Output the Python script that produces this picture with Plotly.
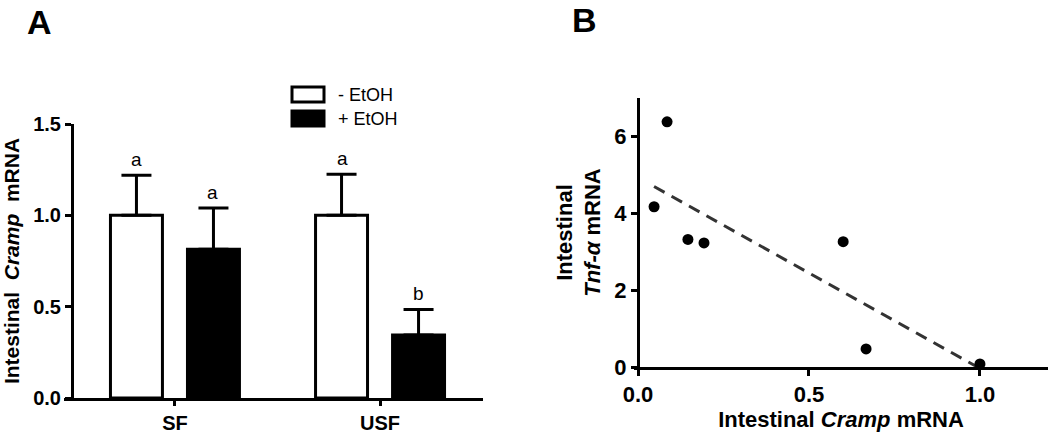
import numpy as np
import plotly.graph_objects as go

# Panel A: intestinal Cramp mRNA by group
groups = ["SF", "USF"]
series_names = ["- EtOH", "+ EtOH"]
cramp_minus = [1.0, 1.0]
cramp_minus_err = [0.22, 0.225]
cramp_plus = [0.815, 0.345]
cramp_plus_err = [0.225, 0.14]
letters_minus = ["a", "a"]
letters_plus = ["a", "b"]

# Panel B: correlation
cramp_x = [0.047, 0.085, 0.146, 0.193, 0.60, 0.667, 1.0]
tnf_y = [4.17, 6.38, 3.32, 3.23, 3.26, 0.47, 0.08]

W, H = 1050, 436


def px(v):
    return v / W


def py(v):
    return 1 - v / H


FONT = "Liberation Sans, Arial, sans-serif"

fig = go.Figure()

fig.add_trace(go.Bar(
    x=groups, y=cramp_minus, name=series_names[0],
    marker=dict(color="white", line=dict(color="black", width=3)),
    error_y=dict(type="data", array=cramp_minus_err, arrayminus=[0, 0], symmetric=False,
                 thickness=3, width=15, color="black"),
    xaxis="x", yaxis="y", showlegend=False,
))
fig.add_trace(go.Bar(
    x=groups, y=cramp_plus, name=series_names[1],
    marker=dict(color="black", line=dict(color="black", width=3)),
    error_y=dict(type="data", array=cramp_plus_err, arrayminus=[0, 0], symmetric=False,
                 thickness=3, width=15, color="black"),
    xaxis="x", yaxis="y", showlegend=False,
))

# scatter + regression line
slope, intercept = np.polyfit(cramp_x, tnf_y, 1)
fit_x = np.array([min(cramp_x), max(cramp_x)])
fig.add_trace(go.Scatter(
    x=fit_x, y=slope * fit_x + intercept, mode="lines",
    line=dict(color="#333333", width=3, dash="12px,8px"),
    xaxis="x2", yaxis="y2", showlegend=False,
))
fig.add_trace(go.Scatter(
    x=cramp_x, y=tnf_y, mode="markers",
    marker=dict(color="black", size=11),
    xaxis="x2", yaxis="y2", showlegend=False,
))

axis_common = dict(showgrid=False, zeroline=False, showline=True, linecolor="black",
                   linewidth=3, ticks="outside", tickwidth=2.5, ticklen=6, tickcolor="black",
                   automargin=False)


def tickfont(size):
    return dict(family=FONT, size=size, color="black", weight="bold")


fig.update_layout(
    width=W, height=H,
    margin=dict(l=0, r=0, t=0, b=0),
    paper_bgcolor="white", plot_bgcolor="white",
    barmode="group", bargap=0.249, bargroupgap=0.325,
    font=dict(family=FONT, color="black"),
    xaxis=dict(axis_common, domain=[px(64), px(483)], range=[-0.541, 1.502],
               anchor="y", ticklen=5, tickfont=tickfont(20)),
    yaxis=dict(axis_common, domain=[py(398), py(124)], range=[0, 1.5],
               tickvals=[0, 0.5, 1.0, 1.5], tickformat=".1f", tickfont=tickfont(20),
               anchor="free", position=px(72),
               title=dict(text="Intestinal  <i>Cramp</i>  mRNA", standoff=6,
                          font=dict(family=FONT, size=21, weight="bold"))),
    xaxis2=dict(axis_common, domain=[px(634), px(1048)], range=[-0.0117, 1.199],
                tickvals=[0, 0.5, 1.0], tickformat=".1f", anchor="y2", tickfont=tickfont(22),
                title=dict(text="Intestinal <i>Cramp</i> mRNA", standoff=6,
                           font=dict(family=FONT, size=22, weight="bold"))),
    yaxis2=dict(axis_common, domain=[py(367), py(98)], range=[0, 7],
                tickvals=[0, 2, 4, 6], anchor="free", position=px(638), tickfont=tickfont(22),
                title=dict(text="Intestinal<br><i>Tnf-α</i> mRNA", standoff=6,
                           font=dict(family=FONT, size=22, weight="bold"))),
)

# significance letters above error bars
GROUP_SHIFT = 38
for i, g in enumerate(groups):
    for vals, errs, letters, shift in ((cramp_minus, cramp_minus_err, letters_minus, -GROUP_SHIFT),
                                        (cramp_plus, cramp_plus_err, letters_plus, GROUP_SHIFT)):
        fig.add_annotation(x=g, y=vals[i] + errs[i], xref="x", yref="y", text=letters[i],
                           showarrow=False, xshift=shift, yanchor="bottom", yshift=3,
                           font=dict(family=FONT, size=19, color="black"))

# custom legend
legend_fill = ["white", "black"]
for k, name in enumerate(series_names):
    top = 87 + k * 24
    fig.add_shape(type="rect", xref="paper", yref="paper",
                  x0=px(292), x1=px(324), y0=py(top + 15), y1=py(top),
                  line=dict(color="black", width=3), fillcolor=legend_fill[k])
    fig.add_annotation(x=px(336), y=py(top + 8), xref="paper", yref="paper", text=name,
                       showarrow=False, xanchor="left", yanchor="middle",
                       font=dict(family=FONT, size=18, color="black"))

# panel labels
for label, x0, y0 in (("A", 25, 22), ("B", 570, 20)):
    fig.add_annotation(x=px(x0), y=py(y0), xref="paper", yref="paper", text=label,
                       showarrow=False, xanchor="left", yanchor="middle",
                       font=dict(family=FONT, size=34, color="black", weight="bold"))

fig.write_html("out.html", config={"displayModeBar": False},
               post_script="document.body.style.margin='0';")
